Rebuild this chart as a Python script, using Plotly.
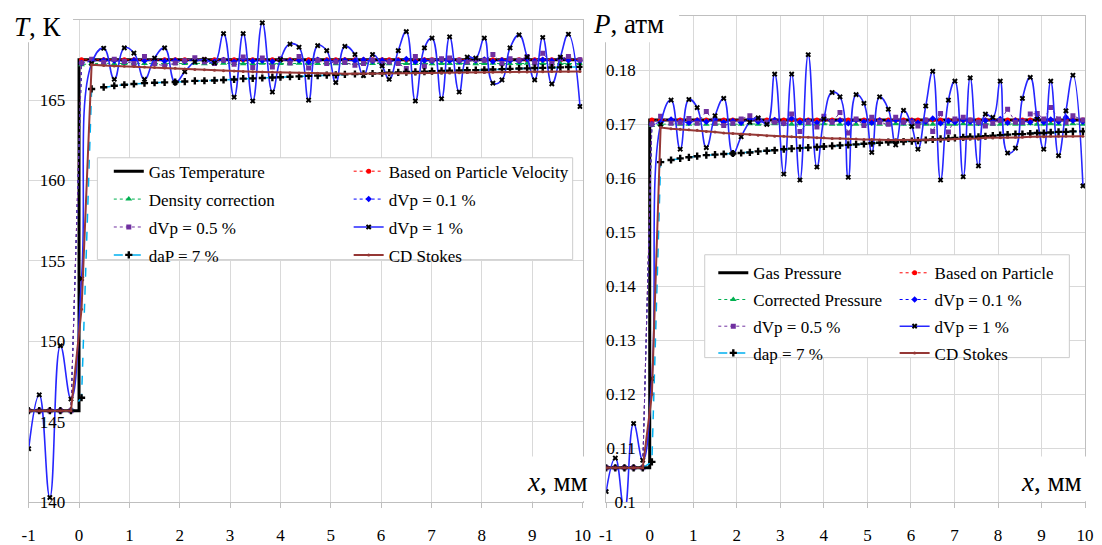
import plotly.graph_objects as go

W, H = 1102, 545

# ---------------- shared x grid (mm) ----------------
X_PRE = [-1.0, -0.79, -0.58, -0.37, -0.16]
X_SHOCK = [0.05]
X_POST = [0.25, 0.49, 0.70, 0.90, 1.09, 1.30, 1.50, 1.70, 1.91, 2.10,
          2.30, 2.49, 2.69, 2.87, 3.08, 3.26, 3.45, 3.64, 3.84, 4.00,
          4.19, 4.37, 4.56, 4.74, 4.92, 5.10, 5.28, 5.48, 5.65, 5.83,
          6.02, 6.16, 6.34, 6.50, 6.68, 6.86, 7.01, 7.20, 7.36, 7.55,
          7.71, 7.88, 8.05, 8.22, 8.40, 8.56, 8.74, 8.90, 9.05, 9.21,
          9.39, 9.56, 9.72, 9.95]
X_ALL = X_PRE + X_SHOCK + X_POST

GAS_X = [-1, 0, 0, 10]

# ---------------- temperature (K) ----------------
T_GAS = [145.7, 145.7, 167.5, 167.5]
T_PARTICLE = [145.7, 145.7, 145.7, 145.7, 145.7, 167.5,
              167.5, 167.5, 167.5, 167.5, 167.5, 167.5, 167.5, 167.5, 167.5, 167.5,
              167.5, 167.5, 167.5, 167.5, 167.5, 167.5, 167.5, 167.5, 167.5, 167.5,
              167.5, 167.5, 167.5, 167.5, 167.5, 167.5, 167.5, 167.5, 167.5, 167.5,
              167.5, 167.5, 167.5, 167.5, 167.5, 167.5, 167.5, 167.5, 167.5, 167.5,
              167.5, 167.5, 167.5, 167.5, 167.5, 167.5, 167.5, 167.5, 167.5, 167.5,
              167.5, 167.5, 167.5, 167.5]
T_DENSITY = [145.7, 145.7, 145.7, 145.7, 145.7, 167.2,
             167.27, 167.28, 167.26, 167.27, 167.28, 167.27, 167.26, 167.28, 167.27, 167.27,
             167.28, 167.26, 167.27, 167.28, 167.27, 167.26, 167.27, 167.28, 167.27, 167.27,
             167.26, 167.28, 167.27, 167.27, 167.28, 167.26, 167.27, 167.27, 167.28, 167.27,
             167.27, 167.26, 167.28, 167.27, 167.27, 167.28, 167.26, 167.27, 167.27, 167.28,
             167.27, 167.26, 167.27, 167.28, 167.27, 167.27, 167.26, 167.28, 167.27, 167.27,
             167.28, 167.27, 167.26, 167.27]
T_DVP01 = [145.7, 145.7, 145.7, 145.7, 145.7, 167.3,
           167.42, 167.48, 167.45, 167.40, 167.47, 167.44, 167.50, 167.43, 167.46, 167.41,
           167.52, 167.45, 167.40, 167.49, 167.38, 167.55, 167.42, 167.46, 167.40, 167.52,
           167.44, 167.47, 167.36, 167.50, 167.45, 167.41, 167.48, 167.44, 167.50, 167.42,
           167.47, 167.40, 167.45, 167.55, 167.38, 167.46, 167.43, 167.50, 167.44, 167.41,
           167.49, 167.46, 167.52, 167.40, 167.47, 167.45, 167.43, 167.55, 167.42, 167.50,
           167.44, 167.60, 167.48, 167.45]
T_DVP05 = [145.7, 145.7, 145.7, 145.7, 145.7, 167.3,
           167.53, 167.35, 167.53, 167.40, 167.27, 167.71, 167.27, 167.12, 167.31, 167.45,
           167.63, 167.37, 167.27, 167.47, 167.22, 167.67, 167.02, 167.61, 167.06, 167.57,
           167.31, 167.71, 167.00, 167.47, 167.27, 167.37, 167.33, 167.16, 167.27, 167.47,
           167.27, 167.37, 167.27, 166.96, 167.71, 167.10, 167.47, 167.57, 167.61, 167.47,
           167.37, 167.51, 167.47, 167.83, 167.27, 167.57, 167.47, 167.71, 167.31, 167.91,
           167.27, 167.57, 167.71, 167.50]
T_DVP1 = [143.33, 146.68, 140.30, 149.73, 146.42, 153.90,
          167.27, 168.22, 166.29, 168.24, 167.92, 166.29, 167.61, 168.24, 166.09, 166.76,
          167.37, 167.53, 167.31, 169.13, 165.18, 169.13, 164.94, 169.80, 165.50, 167.51,
          168.48, 168.28, 165.00, 168.38, 168.07, 166.09, 168.34, 167.83, 166.52, 167.83,
          167.12, 166.29, 168.07, 169.25, 164.94, 168.24, 168.85, 165.08, 168.93, 165.50,
          167.67, 167.61, 168.85, 166.05, 166.25, 168.24, 169.05, 167.67, 166.25, 168.89,
          166.01, 167.67, 169.09, 164.60]
T_DAP = [145.7, 145.7, 145.7, 145.7, 145.7, 146.5,
         165.69, 165.80, 165.89, 165.95, 166.00, 166.05, 166.08, 166.10, 166.12, 166.15,
         166.19, 166.20, 166.22, 166.25, 166.28, 166.33, 166.35, 166.37, 166.40, 166.42,
         166.45, 166.47, 166.50, 166.52, 166.55, 166.57, 166.60, 166.62, 166.63, 166.65,
         166.67, 166.70, 166.72, 166.74, 166.75, 166.77, 166.80, 166.81, 166.82, 166.84,
         166.85, 166.86, 166.88, 166.90, 166.92, 166.94, 166.96, 166.97, 166.99, 167.00,
         167.02, 167.03, 167.05, 167.06]
T_STOKES = [145.7, 145.7, 145.7, 145.7, 145.7, 152.0,
            167.20, 167.15, 167.12, 167.10, 167.08, 167.05, 167.03, 167.00, 166.97, 166.93,
            166.90, 166.88, 166.85, 166.82, 166.80, 166.78, 166.76, 166.75, 166.73, 166.72,
            166.70, 166.68, 166.67, 166.66, 166.65, 166.65, 166.64, 166.64, 166.64, 166.64,
            166.65, 166.65, 166.66, 166.66, 166.67, 166.68, 166.68, 166.69, 166.70, 166.70,
            166.71, 166.72, 166.72, 166.73, 166.74, 166.74, 166.75, 166.75, 166.76, 166.76,
            166.77, 166.77, 166.78, 166.78]

# ---------------- pressure (atm) ----------------
P_GAS = [0.1064, 0.1064, 0.1708, 0.1708]
P_PARTICLE = [0.1064, 0.1064, 0.1064, 0.1064, 0.1064, 0.1708,
              0.1708, 0.1708, 0.1708, 0.1708, 0.1708, 0.1708, 0.1708, 0.1708, 0.1708, 0.1708,
              0.1708, 0.1708, 0.1708, 0.1708, 0.1708, 0.1708, 0.1708, 0.1708, 0.1708, 0.1708,
              0.1708, 0.1708, 0.1708, 0.1708, 0.1708, 0.1708, 0.1708, 0.1708, 0.1708, 0.1708,
              0.1708, 0.1708, 0.1708, 0.1708, 0.1708, 0.1708, 0.1708, 0.1708, 0.1708, 0.1708,
              0.1708, 0.1708, 0.1708, 0.1708, 0.1708, 0.1708, 0.1708, 0.1708, 0.1708, 0.1708,
              0.1708, 0.1708, 0.1708, 0.1708]
P_CORRECTED = [0.1064, 0.1064, 0.1064, 0.1064, 0.1064, 0.1698,
               0.1700, 0.1701, 0.1700, 0.1700, 0.1701, 0.1700, 0.1700, 0.1701, 0.1700, 0.1700,
               0.1701, 0.1700, 0.1700, 0.1701, 0.1700, 0.1700, 0.1701, 0.1700, 0.1700, 0.1701,
               0.1700, 0.1700, 0.1701, 0.1700, 0.1700, 0.1701, 0.1700, 0.1700, 0.1701, 0.1700,
               0.1700, 0.1701, 0.1700, 0.1700, 0.1701, 0.1700, 0.1700, 0.1701, 0.1700, 0.1700,
               0.1701, 0.1700, 0.1700, 0.1701, 0.1700, 0.1700, 0.1701, 0.1700, 0.1700, 0.1701,
               0.1700, 0.1700, 0.1701, 0.1700]
P_DVP01 = [0.1064, 0.1064, 0.1064, 0.1064, 0.1064, 0.1700,
           0.1704, 0.1709, 0.1705, 0.1703, 0.1707, 0.1705, 0.1709, 0.1704, 0.1706, 0.1703,
           0.1710, 0.1705, 0.1703, 0.1708, 0.1702, 0.1711, 0.1704, 0.1706, 0.1703, 0.1709,
           0.1705, 0.1707, 0.1702, 0.1708, 0.1705, 0.1703, 0.1707, 0.1705, 0.1708, 0.1704,
           0.1706, 0.1703, 0.1705, 0.1711, 0.1702, 0.1706, 0.1704, 0.1708, 0.1705, 0.1703,
           0.1707, 0.1706, 0.1710, 0.1703, 0.1707, 0.1705, 0.1704, 0.1712, 0.1704, 0.1709,
           0.1705, 0.1713, 0.1707, 0.1705]
P_DVP05 = [0.1064, 0.1064, 0.1064, 0.1064, 0.1064, 0.1700,
           0.1715, 0.1702, 0.1703, 0.1711, 0.1702, 0.1724, 0.1702, 0.1698, 0.1702, 0.1710,
           0.1716, 0.1710, 0.1704, 0.1704, 0.1702, 0.1719, 0.1687, 0.1704, 0.1695, 0.1715,
           0.1704, 0.1722, 0.1684, 0.1710, 0.1698, 0.1713, 0.1704, 0.1700, 0.1713, 0.1704,
           0.1704, 0.1697, 0.1708, 0.1687, 0.1720, 0.1686, 0.1710, 0.1713, 0.1708, 0.1704,
           0.1697, 0.1702, 0.1707, 0.1728, 0.1704, 0.1704, 0.1719, 0.1720, 0.1710, 0.1731,
           0.1710, 0.1704, 0.1716, 0.1708]
P_DVP1 = [0.1020, 0.1082, 0.0985, 0.1146, 0.1078, 0.1229,
          0.1700, 0.1745, 0.1654, 0.1746, 0.1731, 0.1657, 0.1716, 0.1748, 0.1646, 0.1677,
          0.1704, 0.1712, 0.1700, 0.1793, 0.1608, 0.1793, 0.1597, 0.1829, 0.1621, 0.1710,
          0.1759, 0.1751, 0.1602, 0.1755, 0.1739, 0.1648, 0.1751, 0.1728, 0.1662, 0.1726,
          0.1696, 0.1654, 0.1734, 0.1798, 0.1597, 0.1745, 0.1780, 0.1603, 0.1786, 0.1623,
          0.1719, 0.1713, 0.1780, 0.1647, 0.1656, 0.1748, 0.1787, 0.1710, 0.1654, 0.1780,
          0.1642, 0.1725, 0.1791, 0.1586]
P_DAP = [0.1064, 0.1064, 0.1064, 0.1064, 0.1064, 0.1075,
         0.1630, 0.1634, 0.1637, 0.1639, 0.1641, 0.1643, 0.1644, 0.1645, 0.1646, 0.1647,
         0.1648, 0.1650, 0.1651, 0.1652, 0.1654, 0.1655, 0.1656, 0.1657, 0.1658, 0.1659,
         0.1660, 0.1661, 0.1662, 0.1663, 0.1664, 0.1665, 0.1666, 0.1667, 0.1667, 0.1668,
         0.1669, 0.1670, 0.1671, 0.1672, 0.1673, 0.1674, 0.1675, 0.1676, 0.1677, 0.1677,
         0.1678, 0.1679, 0.1680, 0.1681, 0.1682, 0.1682, 0.1683, 0.1684, 0.1684, 0.1685,
         0.1686, 0.1686, 0.1687, 0.1687]
P_STOKES = [0.1064, 0.1064, 0.1064, 0.1064, 0.1064, 0.1200,
            0.1694, 0.1692, 0.1691, 0.1690, 0.1689, 0.1687, 0.1686, 0.1684, 0.1683, 0.1682,
            0.1681, 0.1680, 0.1679, 0.1678, 0.1678, 0.1677, 0.1676, 0.1676, 0.1675, 0.1675,
            0.1674, 0.1674, 0.1673, 0.1673, 0.1672, 0.1672, 0.1671, 0.1671, 0.1671, 0.1671,
            0.1671, 0.1671, 0.1671, 0.1672, 0.1672, 0.1672, 0.1673, 0.1673, 0.1674, 0.1674,
            0.1675, 0.1675, 0.1675, 0.1676, 0.1676, 0.1676, 0.1677, 0.1677, 0.1677, 0.1678,
            0.1678, 0.1678, 0.1678, 0.1678]

# ---------------- ticks / labels ----------------
X_TICKS = [-1, 0, 1, 2, 3, 4, 5, 6, 7, 8, 9, 10]
X_TICKTEXT = ["-1", "0", "1", "2", "3", "4", "5", "6", "7", "8", "9", "10"]
T_TICKS = [140, 145, 150, 155, 160, 165]
P_TICKS = [0.10, 0.11, 0.12, 0.13, 0.14, 0.15, 0.16, 0.17, 0.18]
P_TICKTEXT = ["0.1", "0.11", "0.12", "0.13", "0.14", "0.15", "0.16", "0.17", "0.18"]

NAMES_T = ["Gas Temperature", "Based on Particle Velocity", "Density correction",
           "dVp = 0.1 %", "dVp = 0.5 %", "dVp = 1 %", "daP = 7 %", "CD Stokes"]
NAMES_P = ["Gas Pressure", "Based on Particle", "Corrected Pressure",
           "dVp = 0.1 %", "dVp = 0.5 %", "dVp = 1 %", "dap = 7 %", "CD Stokes"]

FONT = "Liberation Serif"
GRID = "#d9d9d9"
AXL = "#bfbfbf"


def px(xp):
    return xp / W


def py(yp):
    return 1 - yp / H


STYLES = [
    dict(mode="lines", line=dict(color="black", width=3)),
    dict(mode="lines+markers", line=dict(color="#ff0000", width=1, dash="dot"),
         marker=dict(symbol="circle", size=5, color="#ff0000")),
    dict(mode="lines+markers", line=dict(color="#00b050", width=1, dash="dot"),
         marker=dict(symbol="triangle-up", size=6, color="#00b050")),
    dict(mode="lines+markers", line=dict(color="#0000ff", width=1, dash="dot"),
         marker=dict(symbol="diamond", size=5, color="#0000ff")),
    dict(mode="lines+markers", line=dict(color="#7030a0", width=1, dash="dot"),
         marker=dict(symbol="square", size=5, color="#7030a0")),
    dict(mode="lines+markers", line=dict(color="#2626ff", width=1.6, shape="spline", smoothing=1.3),
         marker=dict(symbol="x", size=5, color="black")),
    dict(mode="lines+markers", line=dict(color="#00b0f0", width=1.5, dash="dash"),
         marker=dict(symbol="cross", size=6, color="black")),
    dict(mode="lines+markers", line=dict(color="#953735", width=2),
         marker=dict(symbol="circle", size=3, color="#953735")),
]
COLS = ["a", "b", "a", "b", "a", "b", "a", "b"]

fig = go.Figure()

series_T = [T_GAS, T_PARTICLE, T_DENSITY, T_DVP01, T_DVP05, T_DVP1, T_DAP, T_STOKES]
series_P = [P_GAS, P_PARTICLE, P_CORRECTED, P_DVP01, P_DVP05, P_DVP1, P_DAP, P_STOKES]

for i, (name, ys) in enumerate(zip(NAMES_T, series_T)):
    xs = GAS_X if i == 0 else X_ALL
    fig.add_trace(go.Scatter(x=xs, y=ys, name=name, xaxis="x", yaxis="y",
                             legend="legend" if COLS[i] == "a" else "legend2",
                             legendgroup="T%d" % i, hoverinfo="skip", **STYLES[i]))
for i, (name, ys) in enumerate(zip(NAMES_P, series_P)):
    xs = GAS_X if i == 0 else X_ALL
    fig.add_trace(go.Scatter(x=xs, y=ys, name=name, xaxis="x2", yaxis="y2",
                             legend="legend3" if COLS[i] == "a" else "legend4",
                             legendgroup="P%d" % i, hoverinfo="skip", **STYLES[i]))

# empty carrier traces for the label-only axes
fig.add_trace(go.Scatter(x=[], y=[], xaxis="x", yaxis="y3", showlegend=False))
fig.add_trace(go.Scatter(x=[], y=[], xaxis="x2", yaxis="y4", showlegend=False))

tickfont = dict(family=FONT, size=17, color="black")

common_x = dict(range=[-1, 10], tickvals=X_TICKS, ticktext=X_TICKTEXT,
                showgrid=True, gridcolor=GRID,
                showline=True, mirror=True, linecolor=AXL, linewidth=1,
                ticks="outside", ticklen=5, tickcolor=AXL, tickfont=tickfont,
                ticklabelstandoff=12, zeroline=False, fixedrange=True)
common_y = dict(showgrid=True, gridcolor=GRID, showline=True, mirror=True,
                linecolor=AXL, linewidth=1, ticks="", showticklabels=False,
                zeroline=False, fixedrange=True)

Y_BOT = 512.7

legend_common = dict(bgcolor="rgba(0,0,0,0)", borderwidth=0, orientation="v",
                     xanchor="left", yanchor="top",
                     font=dict(family=FONT, size=17, color="black"))

fig.update_layout(
    width=W, height=H,
    margin=dict(l=0, r=0, t=0, b=0),
    paper_bgcolor="white", plot_bgcolor="white",
    font=dict(family=FONT, color="black"),
    xaxis=dict(domain=[px(22), px(584)], anchor="y", **common_x),
    yaxis=dict(domain=[py(Y_BOT), py(20)], anchor="x", range=[140, 170],
               tickvals=[140, 145, 150, 155, 160, 165, 170], **common_y),
    xaxis2=dict(domain=[px(608), px(1094)], anchor="y2", **common_x),
    yaxis2=dict(domain=[py(Y_BOT), py(16.7)], anchor="x2", range=[0.1, 0.19],
                tickvals=P_TICKS + [0.19], **common_y),
    yaxis3=dict(overlaying="y", anchor="free", position=px(59), side="left",
                range=[140, 170], tickvals=T_TICKS, showgrid=False, showline=False,
                zeroline=False, ticks="", tickfont=tickfont, fixedrange=True),
    yaxis4=dict(overlaying="y2", anchor="free", position=px(638), side="left",
                range=[0.1, 0.19], tickvals=P_TICKS, ticktext=P_TICKTEXT,
                showgrid=False, showline=False, zeroline=False, ticks="",
                tickfont=tickfont, fixedrange=True),
    legend=dict(x=px(103.3), y=py(156.8), tracegroupgap=2.8, **legend_common),
    legend2=dict(x=px(346.7), y=py(156.8), tracegroupgap=2.8, **legend_common),
    legend3=dict(x=px(716.7), y=py(260.5), tracegroupgap=1.6, **legend_common),
    legend4=dict(x=px(900.7), y=py(260.5), tracegroupgap=1.6, **legend_common),
    showlegend=True,
)

shapes = []
# legend frames
for (x0, y0, x1, y1) in [(91.7, 161, 574, 265), (708, 260, 1078, 365)]:
    shapes.append(dict(type="rect", xref="paper", yref="paper", layer="above",
                       x0=px(x0), x1=px(x1), y0=py(y1), y1=py(y0),
                       fillcolor="white", line=dict(color="#cccccc", width=1)))
# white backgrounds behind axis titles
for (x0, y0, x1, y1) in [(0, 0, 67, 43), (588, 0, 682, 43),
                         (524, 466, 596, 511.5), (1024, 466, 1102, 511.5)]:
    shapes.append(dict(type="rect", xref="paper", yref="paper", layer="above",
                       x0=px(x0), x1=px(x1), y0=py(y1), y1=py(y0),
                       fillcolor="white", line=dict(width=0)))
fig.update_layout(shapes=shapes)

ann_font = dict(family=FONT, size=27, color="black")
fig.update_layout(annotations=[
    dict(text="<i>T</i>, К", x=px(5), y=py(27.5), xref="paper", yref="paper",
         xanchor="left", yanchor="middle", showarrow=False, font=ann_font),
    dict(text="<i>P</i>, атм", x=px(593), y=py(24), xref="paper", yref="paper",
         xanchor="left", yanchor="middle", showarrow=False, font=ann_font),
    dict(text="<i>x</i>, мм", x=px(526), y=py(492), xref="paper", yref="paper",
         xanchor="left", yanchor="middle", showarrow=False, font=ann_font),
    dict(text="<i>x</i>, мм", x=px(1027), y=py(492), xref="paper", yref="paper",
         xanchor="left", yanchor="middle", showarrow=False, font=ann_font),
])

fig.write_html("out.html")
